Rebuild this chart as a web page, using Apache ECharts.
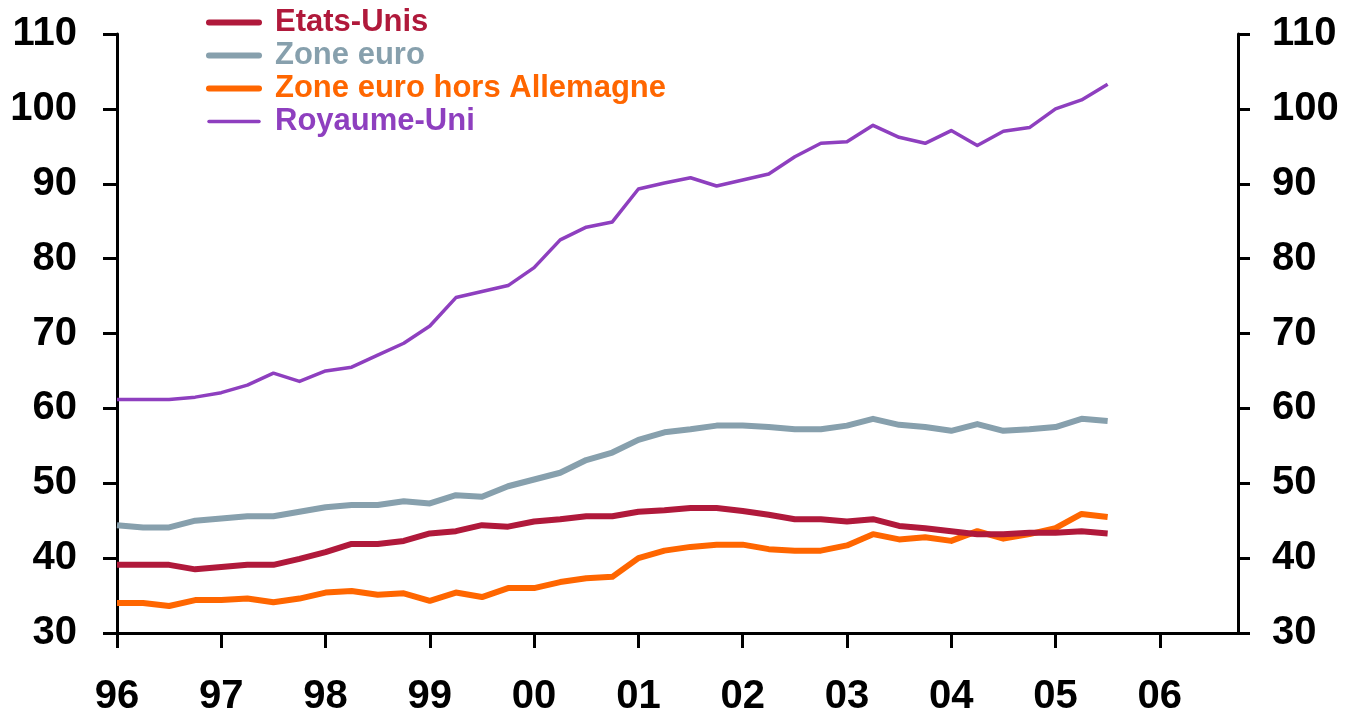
<!DOCTYPE html>
<html>
<head>
<meta charset="utf-8">
<script src="https://cdn.jsdelivr.net/npm/echarts@6/dist/echarts.min.js"></script>
<style>
  html, body { margin: 0; padding: 0; background: #fff; }
  #chart { width: 1346px; height: 717px; }
</style>
</head>
<body>
<div id="chart"></div>
<script>
// years shown on the x axis, one category per quarter
var years = ['96', '97', '98', '99', '00', '01', '02', '03', '04', '05', '06'];
var quarters = [];
for (var y = 0; y < years.length; y++) {
    for (var q = 1; q <= 4; q++) {
        quarters.push(years[y] + 'T' + q);
    }
}

// quarterly values, 1996 T1 to 2005 T3
var etatsUnis = [39.1, 39.1, 39.1, 38.5, 38.8, 39.1, 39.1, 39.9, 40.8, 41.9,
    41.9, 42.3, 43.3, 43.6, 44.4, 44.2, 44.9, 45.2, 45.6, 45.6,
    46.2, 46.4, 46.7, 46.7, 46.3, 45.8, 45.2, 45.2, 44.9, 45.2,
    44.3, 44.0, 43.6, 43.2, 43.2, 43.4, 43.4, 43.6, 43.3];
var zoneEuro = [44.4, 44.1, 44.1, 45.0, 45.3, 45.6, 45.6, 46.2, 46.8, 47.1,
    47.1, 47.6, 47.3, 48.4, 48.2, 49.6, 50.5, 51.4, 53.1, 54.1,
    55.8, 56.8, 57.2, 57.7, 57.7, 57.5, 57.2, 57.2, 57.7, 58.6,
    57.8, 57.5, 57.0, 57.9, 57.0, 57.2, 57.5, 58.6, 58.3];
var horsAllemagne = [34.0, 34.0, 33.6, 34.4, 34.4, 34.6, 34.1, 34.6, 35.4, 35.6,
    35.1, 35.3, 34.3, 35.4, 34.8, 36.0, 36.0, 36.8, 37.3, 37.5,
    40.0, 41.0, 41.5, 41.8, 41.8, 41.2, 41.0, 41.0, 41.7, 43.2,
    42.5, 42.8, 42.3, 43.6, 42.6, 43.2, 44.0, 45.9, 45.5];
var royaumeUni = [61.2, 61.2, 61.2, 61.5, 62.1, 63.1, 64.7, 63.6, 65.0, 65.5,
    67.1, 68.7, 71.0, 74.8, 75.6, 76.4, 78.8, 82.5, 84.2, 84.9,
    89.3, 90.1, 90.8, 89.7, 90.5, 91.3, 93.6, 95.4, 95.6, 97.8,
    96.2, 95.4, 97.1, 95.1, 97.0, 97.5, 100.0, 101.2, 103.3];

var names = ['Etats-Unis', 'Zone euro', 'Zone euro hors Allemagne', 'Royaume-Uni'];
var colors = ['#B0193B', '#87A0AD', '#FF6600', '#8E3FBF'];
var widths = [6, 6, 6, 3.5];
var values = [etatsUnis, zoneEuro, horsAllemagne, royaumeUni];

var font = "'Liberation Sans', Arial, sans-serif";

function yearTick(index) {
    return index % 4 === 0;
}

var series = [];
for (var i = 0; i < names.length; i++) {
    series.push({
        name: names[i],
        type: 'line',
        data: values[i],
        symbol: 'none',
        z: 10 - i,
        lineStyle: { color: colors[i], width: widths[i], join: 'round' },
        itemStyle: { color: colors[i] }
    });
}

// legend entries: thick line, no dot, text in the series colour
var legendData = names.map(function (n, k) {
    return {
        name: n,
        textStyle: { color: colors[k] },
        lineStyle: { color: colors[k], width: widths[k], cap: 'round' },
        itemStyle: { opacity: 0 }
    };
});

var axisLine = { show: true, lineStyle: { color: '#000', width: 3 } };

var chart = echarts.init(document.getElementById('chart'), null, { renderer: 'canvas' });
chart.setOption({
    animation: false,
    backgroundColor: '#fff',
    legend: {
        orient: 'vertical',
        left: 206,
        top: 7,
        padding: 0,
        itemWidth: 50,
        itemHeight: 14,
        itemGap: 2,
        data: legendData,
        textStyle: {
            fontFamily: font,
            fontWeight: 'bold',
            fontSize: 31,
            lineHeight: 31,
            padding: [0, 0, 0, 11]
        }
    },
    grid: { left: 117, right: 108, top: 34, bottom: 83 },
    xAxis: {
        type: 'category',
        data: quarters,
        boundaryGap: false,
        axisLine: axisLine,
        axisTick: { show: true, interval: yearTick, length: 15, lineStyle: { color: '#000', width: 3 } },
        axisLabel: {
            interval: yearTick,
            formatter: function (v) { return v.slice(0, 2); },
            margin: 44,
            color: '#000',
            fontFamily: font,
            fontWeight: 'bold',
            fontSize: 40
        },
        splitLine: { show: false }
    },
    yAxis: [{
        type: 'value',
        min: 30,
        max: 110,
        interval: 10,
        position: 'left',
        axisLine: axisLine,
        axisTick: { show: true, length: 14, lineStyle: { color: '#000', width: 3 } },
        axisLabel: { margin: 40, color: '#000', fontFamily: font, fontWeight: 'bold', fontSize: 40 },
        splitLine: { show: false }
    }, {
        type: 'value',
        min: 30,
        max: 110,
        interval: 10,
        position: 'right',
        axisLine: axisLine,
        axisTick: { show: true, length: 12, lineStyle: { color: '#000', width: 3 } },
        axisLabel: { margin: 34, color: '#000', fontFamily: font, fontWeight: 'bold', fontSize: 40 },
        splitLine: { show: false }
    }],
    series: series
});
</script>
</body>
</html>
